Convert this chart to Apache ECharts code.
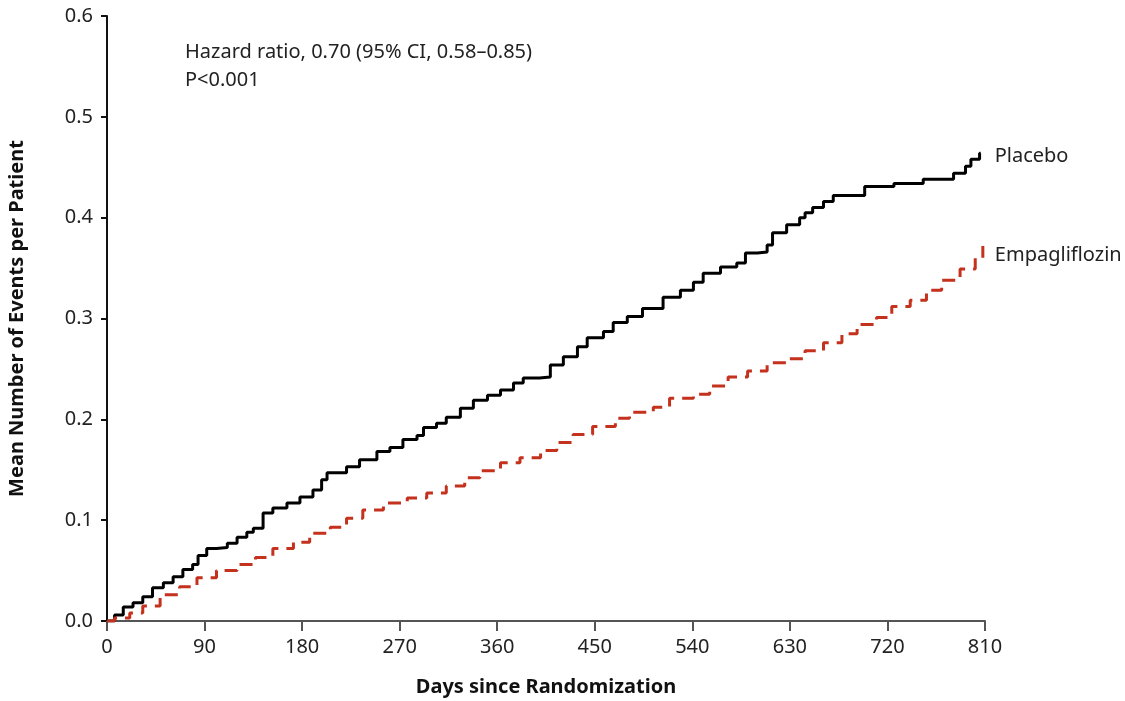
<!DOCTYPE html>
<html>
<head>
<meta charset="utf-8">
<script src="https://cdn.jsdelivr.net/npm/echarts@6/dist/echarts.min.js"></script>
<style>
  html, body { margin: 0; padding: 0; background: #fff; }
  #chart { width: 1125px; height: 701px; }
</style>
</head>
<body>
<div id="chart"></div>
<script>
// Cumulative mean events per patient (days, value)
const placeboDays = [0, 7, 15, 24, 33, 42, 52, 61, 70, 79, 84, 92, 101, 111, 120, 129, 135, 144, 153, 166, 178, 190, 198, 203, 221, 233, 249, 261, 273, 286, 292, 304, 313, 326, 338, 351, 363, 375, 384, 399, 409, 421, 434, 443, 458, 467, 480, 494, 513, 529, 541, 550, 566, 581, 589, 600, 609, 614, 627, 639, 644, 651, 661, 670, 699, 726, 753, 781, 792, 797, 805, 806];
const placeboVals = [0, 0.006, 0.014, 0.018, 0.024, 0.033, 0.038, 0.044, 0.051, 0.056, 0.065, 0.072, 0.073, 0.077, 0.083, 0.088, 0.092, 0.107, 0.112, 0.117, 0.123, 0.130, 0.140, 0.147, 0.153, 0.160, 0.168, 0.172, 0.180, 0.184, 0.192, 0.196, 0.202, 0.211, 0.219, 0.224, 0.229, 0.236, 0.241, 0.242, 0.254, 0.262, 0.272, 0.281, 0.287, 0.296, 0.302, 0.310, 0.321, 0.328, 0.336, 0.345, 0.351, 0.355, 0.365, 0.366, 0.373, 0.385, 0.393, 0.400, 0.405, 0.410, 0.416, 0.422, 0.431, 0.434, 0.438, 0.444, 0.451, 0.458, 0.464, 0.464];

const empaDays = [0, 7, 21, 33, 49, 67, 83, 101, 120, 137, 153, 172, 187, 206, 221, 236, 255, 277, 295, 313, 330, 344, 363, 381, 400, 415, 430, 448, 469, 482, 504, 519, 541, 556, 573, 591, 609, 627, 644, 661, 678, 692, 710, 724, 741, 756, 770, 787, 801, 808];
const empaVals = [0, 0.003, 0.008, 0.015, 0.026, 0.034, 0.043, 0.050, 0.056, 0.063, 0.072, 0.078, 0.087, 0.093, 0.102, 0.110, 0.117, 0.122, 0.127, 0.134, 0.142, 0.149, 0.157, 0.162, 0.169, 0.177, 0.185, 0.193, 0.201, 0.207, 0.212, 0.221, 0.225, 0.233, 0.242, 0.248, 0.256, 0.260, 0.268, 0.276, 0.285, 0.294, 0.301, 0.312, 0.318, 0.328, 0.338, 0.349, 0.360, 0.372];

const xTicks = [0, 90, 180, 270, 360, 450, 540, 630, 720, 810];
const yTicks = [0, 0.1, 0.2, 0.3, 0.4, 0.5, 0.6];

const seriesNames = ["Placebo", "Empagliflozin"];
const annotation = ["Hazard ratio, 0.70 (95% CI, 0.58\u20130.85)", "P<0.001"];

const font = "'Noto Sans', 'Open Sans', sans-serif";
const zip = (xs, ys) => xs.map((x, i) => [x, ys[i]]);

const chart = echarts.init(document.getElementById("chart"), null, { renderer: "canvas" });

chart.setOption({
    backgroundColor: "#fff",
    animation: false,
    grid: { left: 107, right: 140, top: 16, bottom: 80, outerBoundsMode: "none" },
    xAxis: {
        type: "value",
        min: xTicks[0],
        max: xTicks[xTicks.length - 1],
        interval: 90,
        name: "Days since Randomization",
        nameLocation: "middle",
        nameGap: 56,
        nameTextStyle: { fontFamily: font, fontSize: 20, fontWeight: "bold", color: "#111" },
        axisLine: { onZero: false, lineStyle: { color: "#555", width: 2 } },
        axisTick: { length: 10, lineStyle: { color: "#555", width: 2 } },
        axisLabel: { fontFamily: font, fontSize: 20, color: "#222", margin: 16 },
        splitLine: { show: false },
    },
    yAxis: {
        type: "value",
        min: yTicks[0],
        max: yTicks[yTicks.length - 1],
        interval: 0.1,
        name: "Mean Number of Events per Patient",
        nameLocation: "middle",
        nameGap: 80,
        nameTextStyle: { fontFamily: font, fontSize: 20, fontWeight: "bold", color: "#111" },
        axisLine: { show: true, lineStyle: { color: "#111", width: 2 } },
        axisTick: { show: true, length: 6, lineStyle: { color: "#111", width: 2 } },
        axisLabel: {
            fontFamily: font, fontSize: 20, color: "#222", margin: 14,
            formatter: (v) => v.toFixed(1),
        },
        splitLine: { show: false },
    },
    graphic: [
        {
            type: "text",
            left: 185,
            top: 38,
            style: {
                text: annotation.join("\n"),
                fontFamily: font,
                fontSize: 20,
                lineHeight: 28,
                fill: "#222",
            },
        },
    ],
    series: [
        {
            name: seriesNames[0],
            type: "line",
            step: "end",
            showSymbol: false,
            data: zip(placeboDays, placeboVals),
            lineStyle: { color: "#000", width: 3 },
            endLabel: {
                show: true,
                formatter: "{a}",
                distance: 14,
                offset: [0, 3],
                fontFamily: font,
                fontSize: 20,
                color: "#222",
            },
        },
        {
            name: seriesNames[1],
            type: "line",
            step: "end",
            showSymbol: false,
            data: zip(empaDays, empaVals),
            lineStyle: { color: "#c4311c", width: 3, type: [13, 8] },
            endLabel: {
                show: true,
                formatter: "{a}",
                distance: 12,
                offset: [0, 9],
                fontFamily: font,
                fontSize: 20,
                color: "#222",
            },
        },
    ],
});
</script>
</body>
</html>
